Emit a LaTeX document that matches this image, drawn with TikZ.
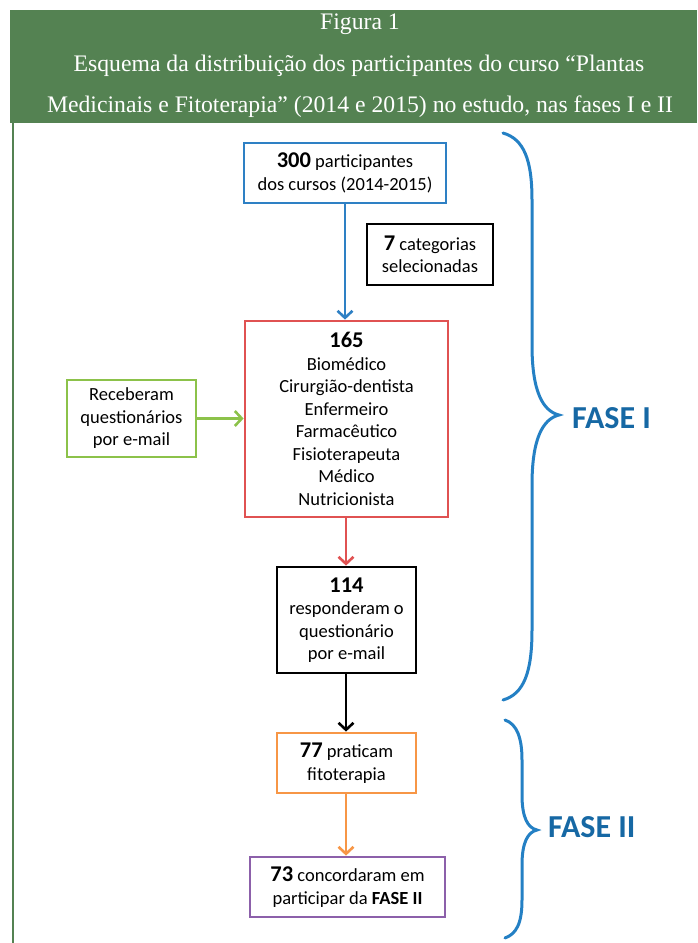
\documentclass[tikz,border=0pt]{standalone}
\usepackage{fontspec}
\setmainfont{Liberation Serif}
\newfontfamily\boxfont{Carlito}
\usetikzlibrary{arrows.meta}
\definecolor{hdrgreen}{RGB}{84,130,82}
\definecolor{bblue}{RGB}{46,128,196}
\definecolor{bred}{RGB}{224,82,82}
\definecolor{bgreen}{RGB}{140,194,74}
\definecolor{borange}{RGB}{247,150,70}
\definecolor{bpurple}{RGB}{140,96,170}
\definecolor{braceblue}{RGB}{36,128,196}
\definecolor{fasetext}{RGB}{22,104,164}
\newcommand\bignum[1]{{\fontsize{22.5}{22.5}\selectfont\bfseries #1}}
\begin{document}
\begin{tikzpicture}[x=1pt,y=-1pt,
  box/.style={draw, line width=2.8pt, inner sep=0pt, align=center,
    font=\boxfont\fontsize{18.5}{22.5}\selectfont, text=black},
  arr/.style={line width=2.6pt, -{Straight Barb[length=7pt,width=15pt,line width=2.6pt]}},
  hdr/.style={text=white, anchor=base, font=\fontsize{23.7}{26}\selectfont, inner sep=0pt},
  bracestyle/.style={draw=braceblue, line width=3pt, line cap=round},
  fase/.style={text=fasetext, anchor=west, inner sep=0pt, font=\boxfont\bfseries\fontsize{32}{36}\selectfont}]
\useasboundingbox (0,0) rectangle (697,943);
% header
\fill[hdrgreen] (10,10) rectangle (697,123);
\node[hdr] (h1) at (360,29) {Figura 1};
\node[hdr] (h2) at (359,71) {Esquema da distribuição dos participantes do curso “Plantas};
\node[hdr] (h3) at (360,112) {Medicinais e Fitoterapia” (2014 e 2015) no estudo, nas fases I e II};
\draw[hdrgreen, line width=2.5pt] (13,123) -- (13,943);
% boxes
\node[box, draw=bblue, minimum width=202pt, minimum height=60pt] (b300) at (345,173)
  {\bignum{300} participantes\\dos cursos (2014-2015)};
\node[box, draw=black, minimum width=126pt, minimum height=61pt] (b7) at (430,254.5)
  {\bignum{7} categorias\\selecionadas};
\node[box, draw=bred, minimum width=203pt, minimum height=196pt] (b165) at (346.5,419)
  {\bignum{165}\\Biomédico\\Cirurgião-dentista\\Enfermeiro\\Farmacêutico\\Fisioterapeuta\\Médico\\Nutricionista};
\node[box, draw=bgreen, minimum width=129pt, minimum height=77pt] (bmail) at (131.5,418.5)
  {Receberam\\questionários\\por e-mail};
\node[box, draw=black, minimum width=139pt, minimum height=106pt] (b114) at (346.5,620)
  {\bignum{114}\\responderam o\\questionário\\por e-mail};
\node[box, draw=borange, minimum width=139pt, minimum height=60pt] (b77) at (346.5,763)
  {\bignum{77} praticam\\fitoterapia};
\node[box, draw=bpurple, minimum width=195pt, minimum height=60pt] (b73) at (347.5,887)
  {\bignum{73} concordaram em\\participar da \textbf{FASE II}};
% arrows
\draw[arr, bblue] (b300.south -| 345,0) -- (b165.north -| 345,0);
\draw[arr, bred] (b165.south -| 346,0) -- (b114.north -| 346,0);
\draw[arr, black] (b114.south -| 346,0) -- (b77.north -| 346,0);
\draw[arr, borange] (b77.south -| 346,0) -- (b73.north -| 346,0);
\draw[arr, bgreen] (bmail.east) -- (bmail.east -| b165.west);
% braces
\draw[bracestyle] (503,133) .. controls (524,139) and (532,160) .. (532,200)
  -- (532,345) .. controls (532,392) and (543,411) .. (559,415)
  .. controls (543,419) and (532,438) .. (532,485)
  -- (532,630) .. controls (532,672) and (524,694) .. (503,700);
\node[fase] (f1) at (572,418) {FASE I};
\draw[bracestyle] (505,720) .. controls (517,724) and (522,738) .. (522,760)
  -- (522,795) .. controls (522,818) and (528,828) .. (537,830)
  .. controls (528,832) and (522,842) .. (522,865)
  -- (522,900) .. controls (522,924) and (516,934) .. (505,938);
\node[fase] (f2) at (548,827) {FASE II};
\end{tikzpicture}
\end{document}
